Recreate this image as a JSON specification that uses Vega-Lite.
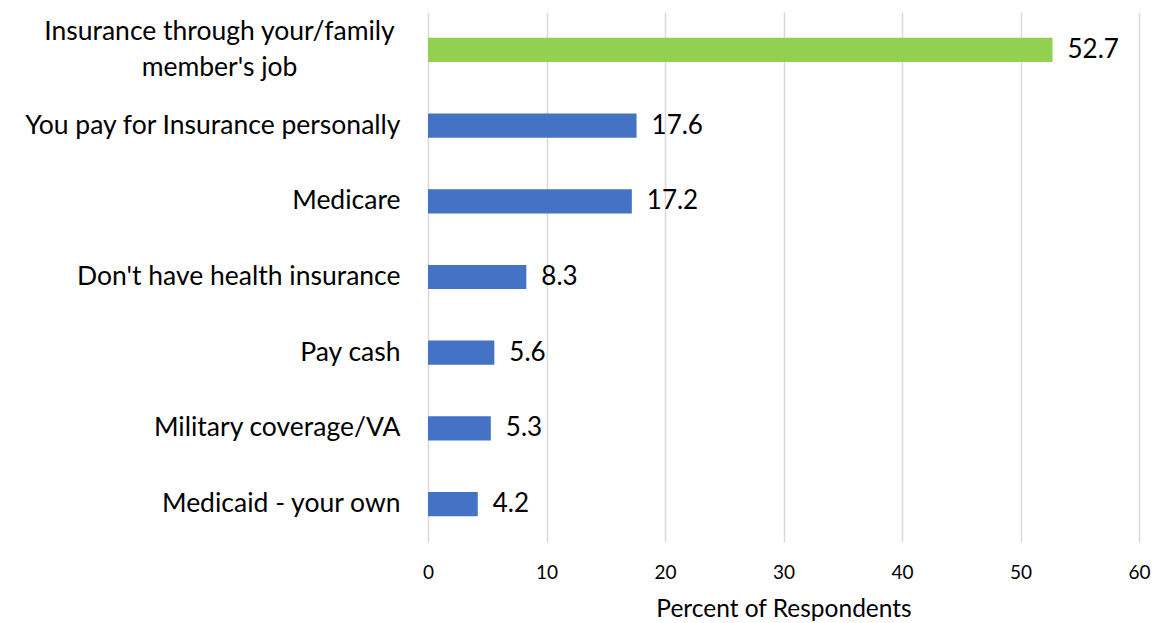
{
  "$schema": "https://vega.github.io/schema/vega-lite/v6.json",
  "width": 711,
  "height": 530,
  "autosize": {"type": "none"},
  "padding": {"left": 428, "top": 12, "right": 16, "bottom": 81},
  "background": "white",
  "config": {"view": {"stroke": null}, "font": "Lato"},
  "data": {
    "values": [
      {"source": "Insurance through your/family member's job", "pct": 52.7},
      {"source": "You pay for Insurance personally", "pct": 17.6},
      {"source": "Medicare", "pct": 17.2},
      {"source": "Don't have health insurance", "pct": 8.3},
      {"source": "Pay cash", "pct": 5.6},
      {"source": "Military coverage/VA", "pct": 5.3},
      {"source": "Medicaid - your own", "pct": 4.2}
    ]
  },
  "encoding": {
    "y": {
      "field": "source",
      "type": "nominal",
      "sort": null,
      "scale": {"paddingInner": 0.68, "paddingOuter": 0.34},
      "axis": {
        "title": null,
        "domain": false,
        "ticks": false,
        "labelFont": "Lato",
        "labelFontSize": 26.5,
        "labelColor": "#000000",
        "labelLimit": 500,
        "labelPadding": {"condition": {"test": "indexof(datum.value, 'family') >= 0", "value": 209}, "value": 28},
        "labelAlign": {"condition": {"test": "indexof(datum.value, 'family') >= 0", "value": "center"}, "value": "right"},
        "labelOffset": {"condition": {"test": "indexof(datum.value, 'family') >= 0", "value": -18}, "value": 0},
        "labelLineHeight": 36,
        "labelExpr": "indexof(datum.value, 'family') >= 0 ? ['Insurance through your/family', 'member\\'s job'] : datum.value"
      }
    },
    "x": {
      "field": "pct",
      "type": "quantitative",
      "scale": {"domain": [0, 60], "nice": false},
      "axis": {
        "title": "Percent of Respondents",
        "titleFont": "Lato",
        "titleFontSize": 24.5,
        "titleFontWeight": "normal",
        "titleColor": "#000000",
        "titlePadding": 15,
        "values": [0, 10, 20, 30, 40, 50, 60],
        "domain": false,
        "ticks": false,
        "grid": true,
        "gridColor": "#d9d9d9",
        "gridWidth": 1.5,
        "labelFont": "Lato",
        "labelFontSize": 19,
        "labelColor": "#000000",
        "labelPadding": 21,
        "labelFlush": false
      }
    }
  },
  "layer": [
    {
      "mark": {"type": "bar"},
      "encoding": {
        "color": {"condition": {"test": "datum.pct > 50", "value": "#92D050"}, "value": "#4472C4"}
      }
    },
    {
      "mark": {"type": "text", "align": "left", "baseline": "middle", "dx": 15, "fontSize": 26, "font": "Lato", "color": "#000000"},
      "encoding": {
        "text": {"field": "pct", "type": "quantitative", "format": ".1f"}
      }
    }
  ]
}
